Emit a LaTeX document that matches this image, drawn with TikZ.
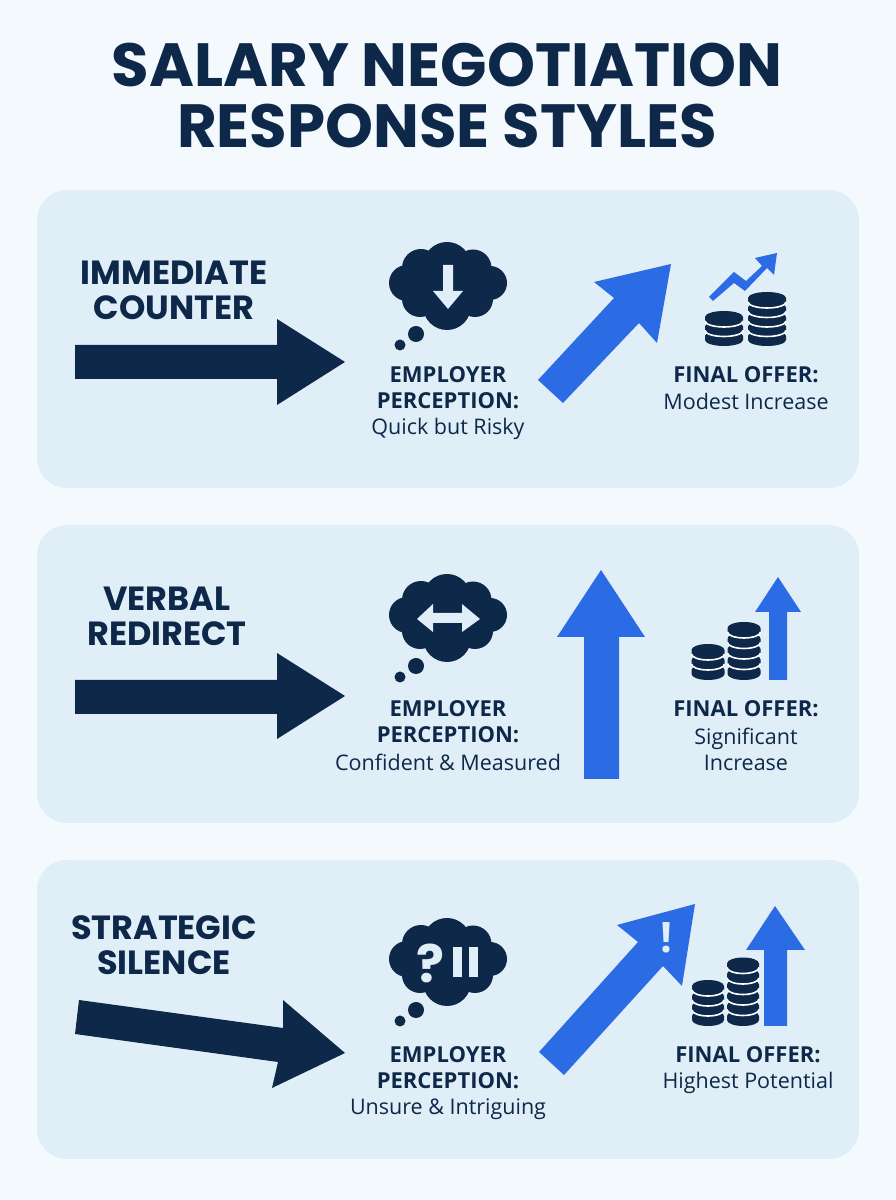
\documentclass[tikz,border=0pt]{standalone}
\usepackage{fontspec}
\setmainfont{Open Sans}
\newfontfamily\headfont{Poppins}
\usetikzlibrary{positioning}
\definecolor{pagebg}{HTML}{F4F9FD}
\definecolor{panelbg}{HTML}{E0EEF7}
\definecolor{navy}{HTML}{0E2849}
\definecolor{blueup}{HTML}{2B6BE4}
\tikzset{
  panel/.style={fill=panelbg,rounded corners=30pt},
  maintitle/.style={font=\headfont\bfseries\fontsize{61}{61}\selectfont,text=navy,align=center,inner sep=0pt},
  stylename/.style={font=\headfont\bfseries\fontsize{33.5}{35}\selectfont,text=navy,align=center,inner sep=0pt},
  headtext/.style={font=\bfseries\fontsize{22}{26}\selectfont,text=navy,align=center,inner sep=0pt},
  bodytext/.style={font=\fontsize{21.5}{26}\selectfont,text=navy,align=center,inner sep=0pt},
  navyfill/.style={fill=navy},
  bluefill/.style={fill=blueup},
  iconmark/.style={fill=panelbg},
}
% thought cloud around its centre
\newcommand{\thoughtcloud}[2]{
  \fill[navy] (#1-41,#2+3) circle(18)
    (#1-27,#2+18) circle(19) (#1-1,#2+20) circle(24) (#1+25,#2+18) circle(18.5)
    (#1+42,#2+3) circle(17) (#1+27,#2-13) circle(18) (#1-1,#2-20) circle(24)
    (#1-28,#2-13) circle(18) (#1,#2) ellipse[x radius=42,y radius=30];
  \fill[navy] (#1-32,#2-48) circle(8) (#1-48,#2-59) circle(5.5);
}
% coin stack: x, bottom y, radius, coins below the top one, pitch
\newcommand{\coinstack}[5]{
  \foreach \k in {0,...,#4}{
    \pgfmathsetmacro{\yb}{#2+6+\k*#5}
    \fill[navy] (#1-#3,\yb) arc[start angle=180,end angle=360,x radius=#3,y radius=6]
      -- ++(0,4) arc[start angle=0,end angle=180,x radius=#3,y radius=6] -- cycle;
    \ifnum\k>0
      \draw[white,line width=1.6pt] (#1-#3,\yb) arc[start angle=180,end angle=360,x radius=#3,y radius=6];
    \fi
  }
}
\begin{document}
\begin{tikzpicture}[x=1pt,y=1pt]
\fill[pagebg] (0,0) rectangle (896,1200);
\useasboundingbox (0,0) rectangle (896,1200);

\node[maintitle] (title) at (447,1104) {SALARY NEGOTIATION\\RESPONSE STYLES};

% panels
\fill[panel] (37,712) rectangle (859,1010);
\fill[panel] (37,377) rectangle (859,675);
\fill[panel] (37,41) rectangle (859,340);

% first panel
\node[stylename] (imm) at (174,910) {IMMEDIATE\\COUNTER};
\fill[navyfill] (75,821) -- (277,821) -- (277,795) -- (345,838) -- (277,881) -- (277,855) -- (75,855) -- cycle;
\thoughtcloud{448}{914}
\fill[iconmark] (443,935) -- (453,935) -- (453,909) -- (463,909) -- (448,891) -- (433,909) -- (443,909) -- cycle;
\node[headtext] (emp1) at (448,812) {EMPLOYER\\PERCEPTION:};
\node[bodytext] (per1) at (448,771) {Quick but Risky};
\fill[bluefill] (538,820) -- (614,902) -- (594,918) -- (671,936) -- (657,857) -- (639,877) -- (563,797) -- cycle;
\fill[bluefill] (709,903) -- (734,928) -- (746,919) -- (762,934) -- (755,942) -- (777,947) -- (774,925) -- (767,932) -- (745,909) -- (734,917) -- (713,899) -- cycle;
\coinstack{724}{854}{19}{2}{9.5}
\coinstack{767}{854}{19}{4}{9.5}
\node[headtext] (fin1) at (746,825) {FINAL OFFER:};
\node[bodytext] (res1) at (746,799) {Modest Increase};

% second panel
\node[stylename] (ver) at (167,584) {VERBAL\\REDIRECT};
\fill[navyfill] (75,486) -- (277,486) -- (277,461) -- (345,504) -- (277,547) -- (277,520) -- (75,520) -- cycle;
\thoughtcloud{448}{582}
\fill[iconmark] (417,581) -- (433,596) -- (433,587) -- (462,587) -- (462,596) -- (480,581) -- (462,568) -- (462,577) -- (433,577) -- (433,568) -- cycle;
\node[headtext] (emp2) at (448,478) {EMPLOYER\\PERCEPTION:};
\node[bodytext] (per2) at (448,438) {Confident \& Measured};
\fill[bluefill] (584,421) -- (619,421) -- (619,563) -- (645,563) -- (601,630) -- (557,563) -- (584,563) -- cycle;
\coinstack{708}{520}{16.5}{2}{10}
\coinstack{744}{520}{16.5}{4}{10.5}
\fill[bluefill] (769,520) -- (787,520) -- (787,588) -- (801,588) -- (778,623) -- (755,588) -- (769,588) -- cycle;
\node[headtext] (fin2) at (746,491) {FINAL OFFER:};
\node[bodytext] (res2) at (746,451) {Significant\\Increase};

% third panel
\node[stylename] (str) at (164,255) {STRATEGIC\\SILENCE};
\fill[navyfill] (79,200) -- (283,172) -- (283,200) -- (345,147) -- (272,112) -- (278,138) -- (75,166) -- cycle;
\thoughtcloud{448}{238}
\node[font=\headfont\bfseries\fontsize{52}{52}\selectfont,text=panelbg,inner sep=0pt] (qm) at (430,237) {?};
\fill[iconmark] (453,223) rectangle (462,253);
\fill[iconmark] (469,223) rectangle (478,253);
\node[headtext] (emp3) at (448,132) {EMPLOYER\\PERCEPTION:};
\node[bodytext] (per3) at (448,91) {Unsure \& Intriguing};
\fill[bluefill] (539,148) -- (638,258) -- (617,275) -- (695,296) -- (682,214) -- (663,234) -- (564,125) -- cycle;
\node[font=\bfseries\fontsize{42}{42}\selectfont,text=panelbg,inner sep=0pt] (excl) at (667,262) {!};
\coinstack{708}{174}{16}{3}{10}
\coinstack{743}{174}{16}{5}{10.5}
\fill[bluefill] (764,174) -- (787,174) -- (787,250) -- (805,250) -- (775,294) -- (746,250) -- (764,250) -- cycle;
\node[headtext] (fin3) at (748,145) {FINAL OFFER:};
\node[bodytext] (res3) at (748,117) {Highest Potential};
\end{tikzpicture}
\end{document}
